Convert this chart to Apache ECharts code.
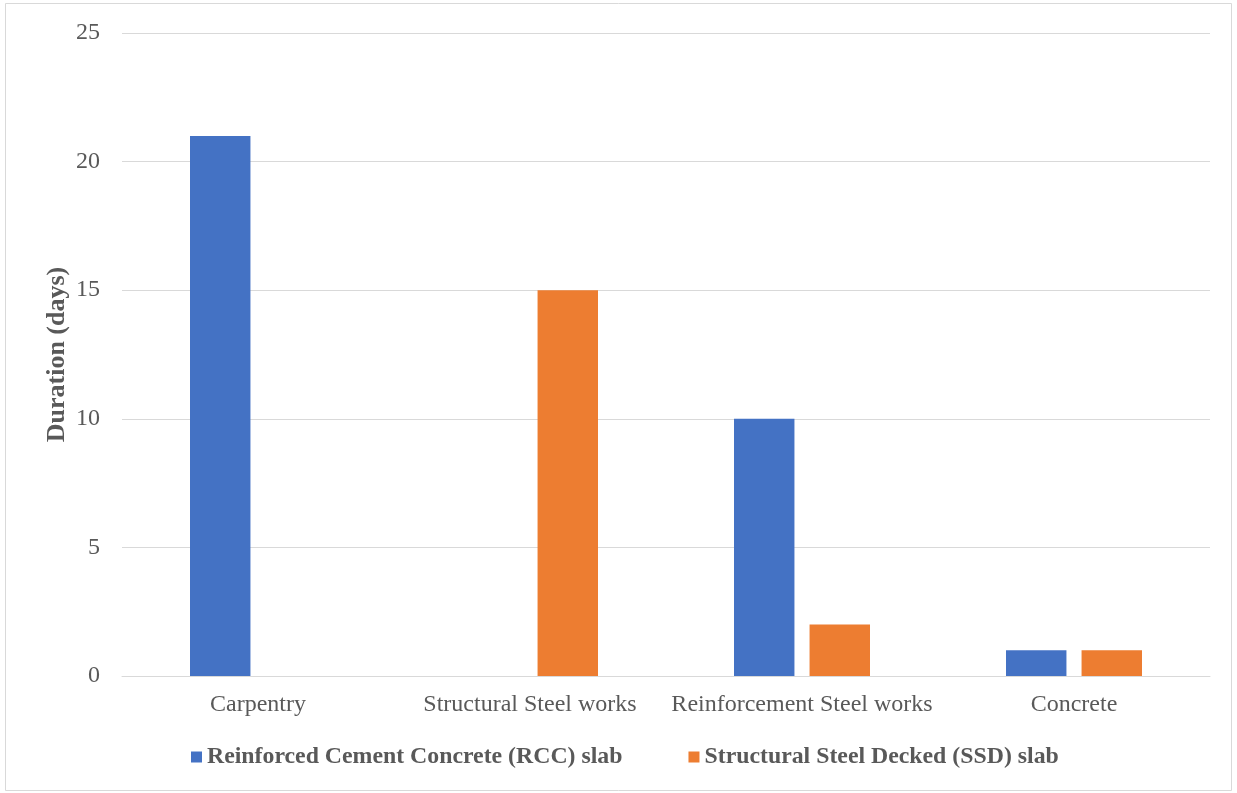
<!DOCTYPE html>
<html>
<head>
<meta charset="utf-8">
<script src="https://cdn.jsdelivr.net/npm/echarts@6/dist/echarts.min.js"></script>
<style>
  html, body { margin: 0; padding: 0; background: #fff; }
  #chart { width: 1237px; height: 793px; }
</style>
</head>
<body>
<div id="chart"></div>
<script>
// Activity durations for the two slab systems
const activities = ['Carpentry', 'Structural Steel works', 'Reinforcement Steel works', 'Concrete'];
const rccDays = [21, 0, 10, 1];
const ssdDays = [0, 15, 2, 1];
const yTicks = [0, 5, 10, 15, 20, 25];

const serif = '"Liberation Serif", "Times New Roman", serif';
const textGrey = '#595959';
const lineGrey = '#d9d9d9';

const chart = echarts.init(document.getElementById('chart'));
chart.setOption({
  backgroundColor: '#fff',
  animation: false,
  graphic: [{
    type: 'rect',
    shape: { x: 5.5, y: 3.5, width: 1226, height: 787 },
    style: { fill: 'none', stroke: lineGrey, lineWidth: 1 },
    silent: true
  }],
  grid: { left: 122, right: 27, top: 33, bottom: 117, containLabel: false },
  legend: {
    left: 186,
    top: 740,
    itemWidth: 11,
    itemHeight: 11,
    itemGap: 66,
    icon: 'rect',
    textStyle: { fontFamily: serif, fontSize: 23.8, fontWeight: 'bold', color: textGrey },
    data: ['Reinforced Cement Concrete (RCC) slab', 'Structural Steel Decked (SSD) slab']
  },
  xAxis: {
    type: 'category',
    data: activities,
    axisLine: { show: true, lineStyle: { color: lineGrey, width: 1 } },
    axisTick: { show: false },
    axisLabel: { fontFamily: serif, fontSize: 24, color: textGrey, margin: 17, interval: 0 }
  },
  yAxis: {
    type: 'value',
    min: yTicks[0],
    max: yTicks[yTicks.length - 1],
    interval: yTicks[1] - yTicks[0],
    name: 'Duration (days)',
    nameLocation: 'middle',
    nameGap: 52,
    nameMoveOverlap: false,
    nameTextStyle: { fontFamily: serif, fontSize: 26, fontWeight: 'bold', color: textGrey },
    axisLine: { show: false },
    axisTick: { show: false },
    axisLabel: { fontFamily: serif, fontSize: 24, color: textGrey, margin: 22 },
    splitLine: { lineStyle: { color: lineGrey, width: 1 } }
  },
  series: [
    {
      name: 'Reinforced Cement Concrete (RCC) slab',
      type: 'bar',
      data: rccDays,
      itemStyle: { color: '#4472c4' },
      barGap: '25%',
      barCategoryGap: '50%'
    },
    {
      name: 'Structural Steel Decked (SSD) slab',
      type: 'bar',
      data: ssdDays,
      itemStyle: { color: '#ed7d31' },
      barGap: '25%',
      barCategoryGap: '50%'
    }
  ]
});
</script>
</body>
</html>
